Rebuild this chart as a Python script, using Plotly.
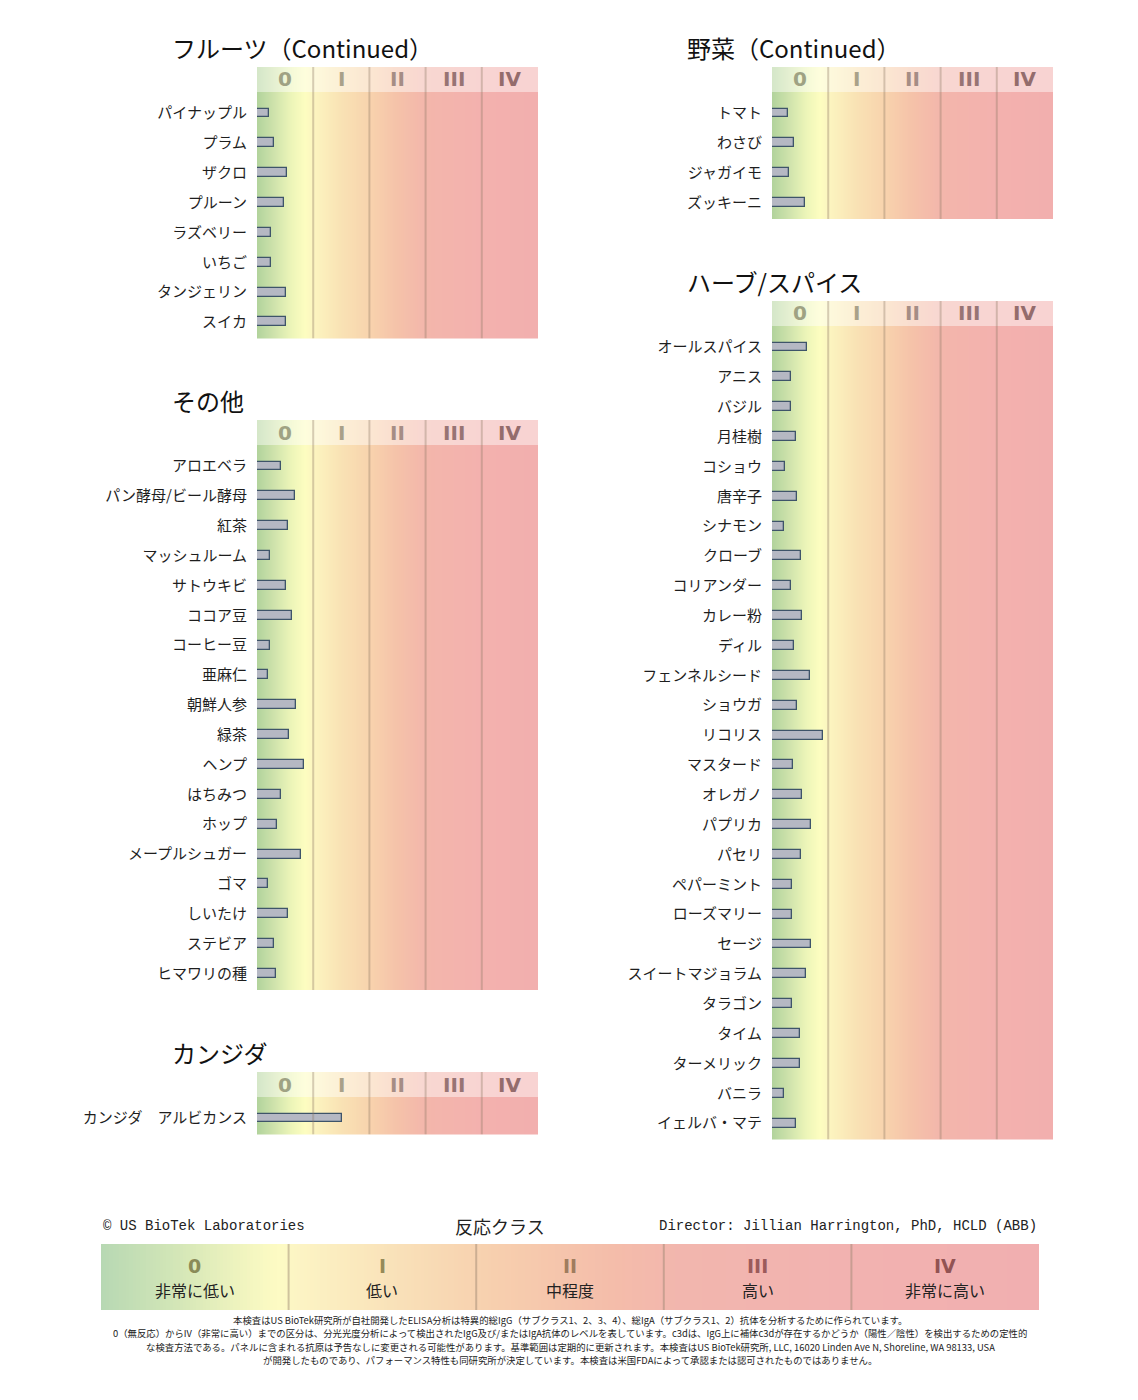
import plotly.graph_objects as go
import numpy as np

W, H = 1138, 1400

# ---------------- data ----------------
fruit_labels = ["パイナップル", "プラム", "ザクロ", "プルーン", "ラズベリー", "いちご", "タンジェリン", "スイカ"]
fruit_values = [0.21, 0.31, 0.53, 0.48, 0.25, 0.25, 0.52, 0.51]

other_labels = ["アロエベラ", "パン酵母/ビール酵母", "紅茶", "マッシュルーム", "サトウキビ", "ココア豆",
                "コーヒー豆", "亜麻仁", "朝鮮人参", "緑茶", "ヘンプ", "はちみつ", "ホップ",
                "メープルシュガー", "ゴマ", "しいたけ", "ステビア", "ヒマワリの種"]
other_values = [0.43, 0.68, 0.56, 0.24, 0.52, 0.63, 0.24, 0.20, 0.69, 0.57, 0.83, 0.43, 0.36,
                0.78, 0.20, 0.56, 0.31, 0.33]

candida_labels = ["カンジダ　アルビカンス"]
candida_values = [1.51]

veg_labels = ["トマト", "わさび", "ジャガイモ", "ズッキーニ"]
veg_values = [0.29, 0.39, 0.30, 0.58]

herb_labels = ["オールスパイス", "アニス", "バジル", "月桂樹", "コショウ", "唐辛子", "シナモン", "クローブ",
               "コリアンダー", "カレー粉", "ディル", "フェンネルシード", "ショウガ", "リコリス", "マスタード",
               "オレガノ", "パプリカ", "パセリ", "ペパーミント", "ローズマリー", "セージ", "スイートマジョラム",
               "タラゴン", "タイム", "ターメリック", "バニラ", "イェルバ・マテ"]
herb_values = [0.62, 0.33, 0.34, 0.43, 0.24, 0.44, 0.21, 0.52, 0.34, 0.53, 0.40, 0.67, 0.44, 0.90,
               0.37, 0.53, 0.69, 0.52, 0.36, 0.35, 0.70, 0.60, 0.35, 0.49, 0.49, 0.21, 0.42]

class_labels = ["0", "I", "II", "III", "IV"]
class_names = ["非常に低い", "低い", "中程度", "高い", "非常に高い"]

footer_lines = [
    "本検査はUS BioTek研究所が自社開発したELISA分析は特異的総IgG（サブクラス1、2、3、4）、総IgA（サブクラス1、2）抗体を分析するために作られています。",
    "0（無反応）からIV（非常に高い）までの区分は、分光光度分析によって検出されたIgG及び/またはIgA抗体のレベルを表しています。c3dは、IgG上に補体c3dが存在するかどうか（陽性／陰性）を検出するための定性的",
    "な検査方法である。パネルに含まれる抗原は予告なしに変更される可能性があります。基準範囲は定期的に更新されます。本検査はUS BioTek研究所, LLC, 16020 Linden Ave N, Shoreline, WA 98133, USA",
    "が開発したものであり、パフォーマンス特性も同研究所が決定しています。本検査は米国FDAによって承認または認可されたものではありません。",
]

# ---------------- styling ----------------
JP = "Noto Sans CJK JP"
BOLD = "DejaVu Sans"
MONO = "Liberation Mono"
panel_scale = [
    [0.0, "#b2d39c"], [0.06, "#cfe3ac"], [0.12, "#ecf5b8"], [0.17, "#fdfdc0"],
    [0.20, "#fcf5c0"], [0.30, "#f9e2b4"], [0.40, "#f8d3ad"], [0.50, "#f5c2a9"],
    [0.60, "#f3b6ab"], [0.80, "#f3b1ae"], [1.0, "#f2afae"],
]
legend_scale = [
    [0.0, "#b7d8b3"], [0.08, "#d3e6b7"], [0.16, "#f4f6c0"], [0.19, "#fdfbc4"],
    [0.21, "#fcf4c4"], [0.32, "#f9e0b8"], [0.42, "#f7cfae"], [0.55, "#f4bcaa"],
    [0.62, "#f2b6ae"], [0.80, "#f2b2b0"], [1.0, "#f1afb0"],
]
head_colors = ["#9fa283", "#a9a189", "#a58d85", "#977474", "#946c6c"]
legend_num_colors = ["#8a8b58", "#968a58", "#a07c5e", "#9b5b5b", "#925353"]

PITCH = 29.85
FIRST = 46.0
BOTPAD = 16.5
HEADB = 21.0
PW = 281

panels = [
    ("フルーツ（Continued）", fruit_labels, fruit_values, 257, 67, 170),
    ("その他", other_labels, other_values, 257, 420, 170),
    ("カンジダ", candida_labels, candida_values, 257, 1072, 170),
    ("野菜（Continued）", veg_labels, veg_values, 772, 67, 685),
    ("ハーブ/スパイス", herb_labels, herb_values, 772, 301, 685),
]

fig = go.Figure()
annotations = []
shapes = []
layout_axes = {}

xs = np.linspace(0, 5, 281)

for i, (title, labels, values, xl, top, tx) in enumerate(panels):
    k = i + 1
    xa = "x" if k == 1 else f"x{k}"
    ya = "y" if k == 1 else f"y{k}"
    n = len(labels)
    bottom = top + FIRST + (n - 1) * PITCH + BOTPAD
    y_top = -FIRST / PITCH
    y_bot = (n - 1) + BOTPAD / PITCH
    y_head = -HEADB / PITCH

    fig.add_trace(go.Heatmap(
        x=xs, y=[y_top - 1, y_bot + 1], z=[xs, xs], zmin=0, zmax=5,
        colorscale=panel_scale, showscale=False, hoverinfo="skip",
        xaxis=xa, yaxis=ya))
    fig.add_trace(go.Bar(
        x=values, y=list(range(n)), orientation="h", width=0.30,
        marker=dict(color="#b5b8c3", line=dict(color="#3e5469", width=1.3)),
        xaxis=xa, yaxis=ya, hoverinfo="x+y"))

    axn = "" if k == 1 else str(k)
    layout_axes[f"xaxis{axn}"] = dict(
        domain=[xl / W, (xl + PW) / W], range=[0, 5], anchor=ya,
        showgrid=False, zeroline=False, showticklabels=False, ticks="", fixedrange=True)
    layout_axes[f"yaxis{axn}"] = dict(
        domain=[1 - bottom / H, 1 - top / H], range=[y_bot, y_top], anchor=xa,
        tickvals=list(range(n)), ticktext=labels, showgrid=False, zeroline=False,
        ticks="", ticklabelstandoff=9, showline=False,
        tickfont=dict(family=JP, size=15, color="#1e1e1e"), fixedrange=True)

    # header overlay
    shapes.append(dict(type="rect", xref=xa, yref=ya, x0=0, x1=5, y0=y_top, y1=y_head,
                       fillcolor="rgba(255,255,255,0.45)", line=dict(width=0), layer="above"))
    for c in range(1, 5):
        shapes.append(dict(type="line", xref=xa, yref=ya, x0=c, x1=c, y0=y_top, y1=y_bot,
                           line=dict(color="rgba(140,120,100,0.35)", width=2), layer="above"))
    for c, lab in enumerate(class_labels):
        annotations.append(dict(xref=xa, yref=ya, x=c + 0.5, y=(y_top + y_head) / 2,
                                text=f"<b>{lab}</b>", showarrow=False,
                                font=dict(family=BOLD, size=20, color=head_colors[c])))
    annotations.append(dict(xref="paper", yref="paper", x=tx / W, y=1 - (top - 19.5) / H,
                            xanchor="left", yanchor="middle", text=title, showarrow=False,
                            font=dict(family=JP, size=24, color="#111111")))

# ---------------- legend band ----------------
LB_TOP, LB_BOT = 1244, 1310
fig.add_trace(go.Heatmap(
    x=xs, y=[-1, 2], z=[xs, xs], zmin=0, zmax=5, colorscale=legend_scale,
    showscale=False, hoverinfo="skip", xaxis="x6", yaxis="y6"))
layout_axes["xaxis6"] = dict(domain=[101 / W, 1039 / W], range=[0, 5], anchor="y6",
                             showgrid=False, zeroline=False, showticklabels=False, fixedrange=True)
layout_axes["yaxis6"] = dict(domain=[1 - LB_BOT / H, 1 - LB_TOP / H], range=[0, 1], anchor="x6",
                             showgrid=False, zeroline=False, showticklabels=False, fixedrange=True)
for c in range(1, 5):
    shapes.append(dict(type="line", xref="x6", yref="y6", x0=c, x1=c, y0=0, y1=1,
                       line=dict(color="rgba(150,130,110,0.45)", width=2), layer="above"))
num_y = (LB_BOT - 1266) / (LB_BOT - LB_TOP)
name_y = (LB_BOT - 1290) / (LB_BOT - LB_TOP)
for c in range(5):
    annotations.append(dict(xref="x6", yref="y6", x=c + 0.5, y=num_y, text=f"<b>{class_labels[c]}</b>",
                            showarrow=False, yanchor="middle", borderpad=0,
                            font=dict(family=BOLD, size=19, color=legend_num_colors[c])))
    annotations.append(dict(xref="x6", yref="y6", x=c + 0.5, y=name_y, text=class_names[c],
                            showarrow=False, yanchor="middle", borderpad=0,
                            font=dict(family=JP, size=16, color="#222222")))

annotations.append(dict(xref="paper", yref="paper", x=101 / W, y=1 - 1226 / H, xanchor="left",
                        yanchor="middle", text="© US BioTek Laboratories", showarrow=False,
                        font=dict(family=MONO, size=14, color="#222222")))
annotations.append(dict(xref="paper", yref="paper", x=500 / W, y=1 - 1226 / H, xanchor="center",
                        yanchor="middle", text="反応クラス", showarrow=False,
                        font=dict(family=JP, size=18, color="#222222")))
annotations.append(dict(xref="paper", yref="paper", x=1039 / W, y=1 - 1226 / H, xanchor="right",
                        yanchor="middle", text="Director: Jillian Harrington, PhD, HCLD (ABB)",
                        showarrow=False, font=dict(family=MONO, size=14, color="#222222")))
for j, line in enumerate(footer_lines):
    annotations.append(dict(xref="paper", yref="paper", x=570 / W, y=1 - (1320 + j * 13.4) / H,
                            xanchor="center", yanchor="middle", text=line, showarrow=False,
                            font=dict(family=JP, size=9.4, color="#222222")))

fig.update_layout(
    width=W, height=H, margin=dict(l=0, r=0, t=0, b=0),
    paper_bgcolor="white", plot_bgcolor="white", showlegend=False,
    annotations=annotations, shapes=shapes, bargap=0, **layout_axes)

fig.write_html("out.html", config={"displayModeBar": False},
               post_script="document.body.style.margin='0px';")
